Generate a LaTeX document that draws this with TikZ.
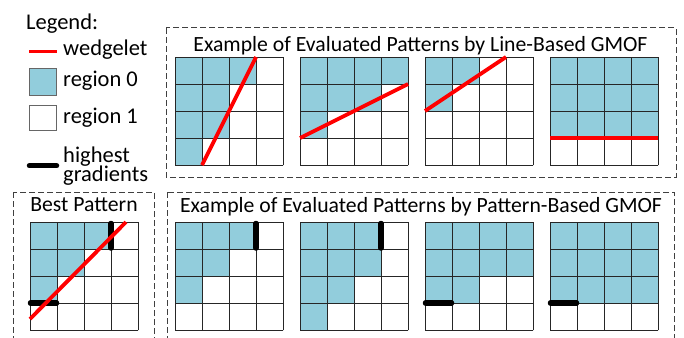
\documentclass[tikz,border=0pt]{standalone}
\usepackage{fontspec}
\setmainfont{Carlito}
\definecolor{rzero}{HTML}{92CDDC}
\begin{document}
\begin{tikzpicture}[x=1pt,y=-1pt,
  gridline/.style={line width=0.9pt, black!85, line cap=rect},
  wedge/.style={red, line width=3.8pt},
  grad/.style={black, line width=5.5pt, line cap=round},
  dbox/.style={draw=black!75, line width=1pt, dash pattern=on 6pt off 3pt},
  title/.style={font=\fontsize{21.7}{24}\selectfont, anchor=base, inner sep=0pt},
  legtext/.style={font=\fontsize{22.5}{19.5}\selectfont, anchor=base west, inner sep=0pt},
  legbox/.style={draw=black!60, line width=0.9pt},
  pics/gridpat/.style n args={4}{code={
     \fill[rzero] (0,0) rectangle (27*#1,27);
     \fill[rzero] (0,27) rectangle (27*#2,54);
     \fill[rzero] (0,54) rectangle (27*#3,81);
     \fill[rzero] (0,81) rectangle (27*#4,108);
     \foreach \k in {0,27,54,81,108} {\draw[gridline] (\k,0) -- (\k,108); \draw[gridline] (0,\k) -- (108,\k);}
  }}]
\useasboundingbox (0,0) rectangle (684,337);
\clip (0,0) rectangle (684,337);
% dashed frames
\draw[dbox] (166,28) rectangle (676,177);
\draw[dbox] (13,192) rectangle (154,350);
\draw[dbox] (167,192) rectangle (674,350);
% legend
\node[legtext] (leg) at (26,29.5) {Legend:};
\draw[red, line width=3.5pt] (29,51.7) -- (57,51.7);
\node[legtext] (lw) at (63,56) {wedgelet};
\draw[legbox, fill=rzero] (29.3,68.3) rectangle (56,95.7);
\node[legtext] (l0) at (63,86) {region 0};
\draw[legbox, fill=white] (29.3,105) rectangle (56,130.7);
\node[legtext] (l1) at (63,123.5) {region 1};
\draw[grad] (29.5,165.7) -- (56.5,165.7);
\node[legtext, align=left, anchor=west] (lh) at (63,166) {highest\\gradients};
% titles
\node[title] (tt) at (420.5,52) {Example of Evaluated Patterns by Line-Based GMOF};
\node[title] (tb) at (84,211) {Best Pattern};
\node[title] (tp) at (421,212) {Example of Evaluated Patterns by Pattern-Based GMOF};
% top grids
\pic (t1) at (175,57) {gridpat={3}{2}{2}{1}};
\pic (t2) at (300,57) {gridpat={4}{3}{1}{0}};
\pic (t3) at (425,57) {gridpat={2}{1}{0}{0}};
\pic (t4) at (550,57) {gridpat={4}{4}{4}{0}};
\draw[wedge] (202,165) -- (256,57);
\draw[wedge] (300,138) -- (408,84);
\draw[wedge] (425,111) -- (506,57);
\draw[wedge] (550,138) -- (658,138);
% best pattern
\pic (bp) at (30,222) {gridpat={3}{2}{1}{0}};
\draw[grad] (111,223.5) -- (111,248);
\draw[grad] (30.5,303) -- (56.5,303);
\draw[wedge] (30,319) -- (126,222);
% bottom grids
\pic (b1) at (175,222) {gridpat={3}{2}{1}{0}};
\pic (b2) at (300,222) {gridpat={3}{3}{2}{1}};
\pic (b3) at (425,222) {gridpat={4}{4}{2}{0}};
\pic (b4) at (550,222) {gridpat={4}{4}{4}{0}};
\draw[grad] (256,223.5) -- (256,248);
\draw[grad] (381,223.5) -- (381,248);
\draw[grad] (425.5,303) -- (451.5,303);
\draw[grad] (550.5,303) -- (576.5,303);
\end{tikzpicture}
\end{document}
